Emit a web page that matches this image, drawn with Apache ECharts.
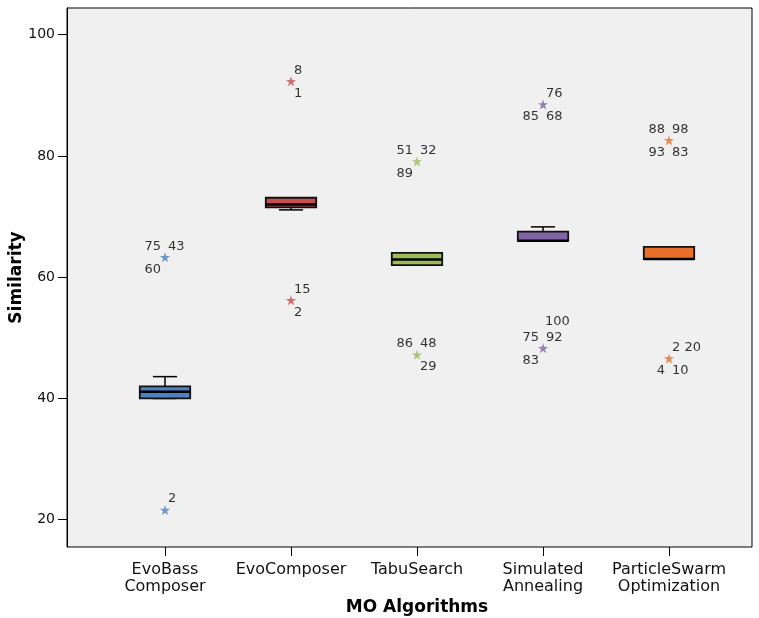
<!DOCTYPE html>
<html>
<head>
<meta charset="utf-8">
<script src="https://cdn.jsdelivr.net/npm/echarts@6/dist/echarts.min.js"></script>
<style>
  body { margin: 0; background: #fff; }
  #chart { width: 759px; height: 618px; }
</style>
</head>
<body>
<div id="chart"></div>
<script>
// box summary per algorithm
const categories = ['EvoBass\nComposer', 'EvoComposer', 'TabuSearch', 'Simulated\nAnnealing', 'ParticleSwarm\nOptimization'];
const lowerWhisker = [40.0, 71.1, 62.0, 66.0, 63.0];
const q1 = [40.0, 71.5, 62.0, 66.0, 63.0];
const median = [41.1, 72.0, 62.9, 66.0, 63.0];
const q3 = [42.0, 73.1, 64.0, 67.5, 65.0];
const upperWhisker = [43.6, 73.1, 64.0, 68.3, 65.0];

// extreme values (stars) with their case numbers
const outlierCategory = [0, 0, 1, 1, 2, 2, 3, 3, 4, 4];
const outlierValue = [63.3, 21.6, 92.3, 56.2, 79.1, 47.2, 88.5, 48.3, 82.6, 46.6];
const outlierCases = [
    ['75', '43', '60'],
    ['2'],
    ['8', '1'],
    ['15', '2'],
    ['51', '32', '89'],
    ['86', '48', '29'],
    ['76', '85', '68'],
    ['100', '75', '92', '83'],
    ['88', '98', '93', '83'],
    ['2 20', '4', '10']
];

const yTicks = [20, 40, 60, 80, 100];

// styling
const boxColors = ['#4f81c2', '#c3504f', '#9bbb59', '#8064a5', '#e8702a'];
const caseSlots = [
    ['tl', 'tr', 'bl'],
    ['tr'],
    ['tr', 'br'],
    ['tr', 'br'],
    ['tl', 'tr', 'bl'],
    ['tl', 'tr', 'br'],
    ['tr', 'bl', 'br'],
    ['tt', 'tl', 'tr', 'bl'],
    ['tl', 'tr', 'bl', 'br'],
    ['tr', 'bl', 'br']
];
const slotStyle = {
    tl: {align: 'right', offset: [-4, -11]},
    tr: {align: 'left', offset: [3, -11]},
    bl: {align: 'right', offset: [-4, 12]},
    br: {align: 'left', offset: [3, 12]},
    tt: {align: 'left', offset: [2, -27]}
};
const FONT = 'DejaVu Sans';
const STAR = 'path://M10 0 L12.35 6.76 L19.51 6.91 L13.80 11.24 L15.88 18.09 L10 14 L4.12 18.09 L6.20 11.24 L0.49 6.91 L7.65 6.76 Z';
const Y_MIN = 15.5, Y_MAX = 104.4;

const boxData = categories.map((c, i) => [i, lowerWhisker[i], q1[i], median[i], q3[i], upperWhisker[i]]);

const starData = outlierValue.map((v, i) => ({
    value: [outlierCategory[i], v],
    itemStyle: {color: boxColors[outlierCategory[i]]}
}));

const caseLabelData = [];
outlierCases.forEach((cases, i) => {
    cases.forEach((txt, k) => {
        const s = slotStyle[caseSlots[i][k]];
        caseLabelData.push({
            value: [outlierCategory[i], outlierValue[i]],
            label: {
                show: true,
                position: 'inside',
                formatter: txt,
                align: s.align,
                verticalAlign: 'middle',
                offset: s.offset
            }
        });
    });
});

function renderBox(params, api) {
    const x = api.value(0);
    const pLow = api.coord([x, api.value(1)]);
    const pQ1 = api.coord([x, api.value(2)]);
    const pMed = api.coord([x, api.value(3)]);
    const pQ3 = api.coord([x, api.value(4)]);
    const pHigh = api.coord([x, api.value(5)]);
    const cx = pMed[0];
    const half = api.size([1, 0])[0] * 0.2;
    const cap = half * 0.48;
    const lineStyle = {stroke: '#000', lineWidth: 1.5};
    return {
        type: 'group',
        children: [
            {type: 'line', shape: {x1: cx, y1: pHigh[1], x2: cx, y2: pQ3[1]}, style: lineStyle},
            {type: 'line', shape: {x1: cx, y1: pQ1[1], x2: cx, y2: pLow[1]}, style: lineStyle},
            {type: 'line', shape: {x1: cx - cap, y1: pHigh[1], x2: cx + cap, y2: pHigh[1]}, style: lineStyle},
            {type: 'line', shape: {x1: cx - cap, y1: pLow[1], x2: cx + cap, y2: pLow[1]}, style: lineStyle},
            {
                type: 'rect',
                shape: {x: cx - half, y: pQ3[1], width: half * 2, height: pQ1[1] - pQ3[1]},
                style: {fill: boxColors[params.dataIndex], stroke: '#111', lineWidth: 1.8}
            },
            {type: 'line', shape: {x1: cx - half, y1: pMed[1], x2: cx + half, y2: pMed[1]}, style: {stroke: '#000', lineWidth: 2.5}}
        ]
    };
}

const chart = echarts.init(document.getElementById('chart'));
chart.setOption({
    animation: false,
    textStyle: {fontFamily: FONT},
    grid: [
        {left: 67, right: 7, top: 8, bottom: 71, outerBoundsMode: 'none', show: true, backgroundColor: '#f0f0f0', borderColor: '#000', borderWidth: 1},
        {left: 102, right: 27, top: 8, bottom: 71, outerBoundsMode: 'none'}
    ],
    xAxis: [
        {gridIndex: 0, type: 'value', min: 0, max: 1, show: false},
        {
            gridIndex: 1,
            type: 'category',
            data: categories,
            name: 'MO Algorithms',
            nameLocation: 'middle',
            nameGap: 61,
            nameMoveOverlap: false,
            nameTextStyle: {fontFamily: FONT, fontSize: 17, fontWeight: 'bold', color: '#000', verticalAlign: 'middle'},
            axisLine: {show: false},
            axisTick: {show: true, alignWithLabel: true, length: 9, lineStyle: {color: '#000'}},
            axisLabel: {fontFamily: FONT, fontSize: 16, lineHeight: 17, margin: 14, color: '#111', interval: 0},
            splitLine: {show: false}
        }
    ],
    yAxis: [
        {
            gridIndex: 0,
            type: 'value',
            min: Y_MIN,
            max: Y_MAX,
            name: 'Similarity',
            nameLocation: 'middle',
            nameGap: 50,
            nameMoveOverlap: false,
            nameRotate: 90,
            nameTextStyle: {fontFamily: FONT, fontSize: 17, fontWeight: 'bold', color: '#000', verticalAlign: 'middle'},
            axisLine: {show: true, lineStyle: {color: '#000'}},
            axisTick: {show: true, length: 9, lineStyle: {color: '#000'}, customValues: yTicks},
            axisLabel: {fontFamily: FONT, fontSize: 14, color: '#111', margin: 12, customValues: yTicks},
            splitLine: {show: false}
        },
        {gridIndex: 1, type: 'value', min: Y_MIN, max: Y_MAX, show: false}
    ],
    series: [
        {
            type: 'custom',
            xAxisIndex: 1,
            yAxisIndex: 1,
            renderItem: renderBox,
            encode: {x: 0, y: [1, 2, 3, 4, 5]},
            data: boxData,
            z: 3
        },
        {
            type: 'scatter',
            xAxisIndex: 1,
            yAxisIndex: 1,
            symbol: 'circle',
            symbolSize: 0,
            itemStyle: {color: 'rgba(0,0,0,0)'},
            data: caseLabelData,
            label: {fontFamily: FONT, fontSize: 13, color: '#000'},
            emphasis: {disabled: true},
            z: 4
        },
        {
            type: 'scatter',
            xAxisIndex: 1,
            yAxisIndex: 1,
            symbol: STAR,
            symbolSize: 10,
            data: starData,
            z: 5
        }
    ]
});
</script>
</body>
</html>
